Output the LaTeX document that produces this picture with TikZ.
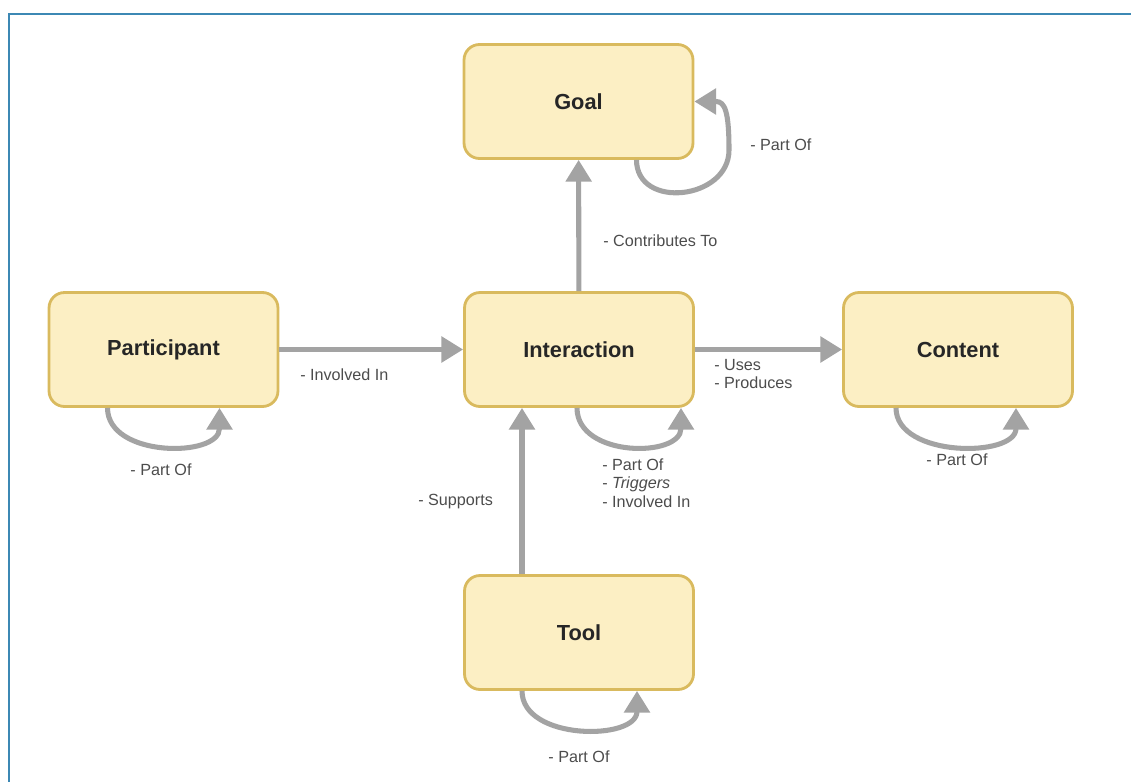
\documentclass[tikz,border=0pt]{standalone}
\usepackage{fontspec}
\setmainfont{Liberation Sans}
\usetikzlibrary{arrows.meta,calc}

\definecolor{boxfill}{HTML}{FCEFC4}
\definecolor{boxline}{HTML}{D9BA5E}
\definecolor{linkgray}{HTML}{A3A3A3}
\definecolor{frameblue}{HTML}{3C88B4}

\tikzset{
  concept/.style={draw=boxline, line width=2pt, fill=boxfill, rounded corners=11pt,
    minimum width=229*0.711pt, minimum height=114*0.711pt,
    font=\fontsize{15.5}{18}\selectfont\bfseries, text=black!85},
  link/.style={draw=linkgray, line width=3.6pt,
    -{Triangle[length=15.5pt,width=18pt]}},
  lbl/.style={font=\fontsize{11.5}{13}\selectfont, text=black!70, inner sep=0pt}
}

\begin{document}
\begin{tikzpicture}[x=0.025cm, y=-0.025cm]
    \useasboundingbox (0,0) rectangle (1131,782);
    % Marco
    \draw [frameblue, line width=1.5pt] (9,782) -- (9,14) -- (1131,14);
    % Conceptos
    \node [concept] (goal) at (578.5,101.5) {Goal};
    \node [concept] (part) at (163.5,349.5) {Participant};
    \node [concept] (inter) at (579,349.5) {Interaction};
    \node [concept] (cont) at (958,349.5) {Content};
    \node [concept] (tool) at (579,632.5) {Tool};
    % Relaciones entre conceptos
    \draw [link] (inter) -- (goal);
    \node [lbl, anchor=west] (contrib) at (603,241) {- Contributes To};
    \draw [link] (part) -- (inter);
    \node [lbl, anchor=west] (involved) at (300,375) {- Involved In};
    \draw [link] (inter) -- (cont);
    \node [lbl, anchor=west, align=left] (uses) at (714,374) {- Uses\\- Produces};
    \draw [link] ($(tool.north)+(-57,0)$) -- ($(inter.south)+(-57,0)$);
    \node [lbl, anchor=west] (supports) at (418,502) {- Supports};
    % Relaciones reflexivas
    \draw [link] ($(goal.south)+(58,0)$) .. controls +(0,50) and +(0,50) .. (729,150)
        .. controls +(0,-38) and +(9,0) .. (716,101.5) -- (goal.east);
    \node [lbl, anchor=west] (goalpart) at (750,145) {- Part Of};
    \draw [link] ($(part.south)+(-56,0)$) .. controls +(0,50) and +(0,50) .. ($(part.south)+(56,0)$);
    \node [lbl] (partpart) at (161,470) {- Part Of};
    \draw [link] ($(inter.south)+(-2,0)$) .. controls +(0,50) and +(0,50) .. ($(inter.south)+(102,0)$);
    \node [lbl, anchor=west, align=left] (interpart) at (602,483) {- Part Of\\- \textit{Triggers}\\- Involved In};
    \draw [link] ($(cont.south)+(-62,0)$) .. controls +(0,50) and +(0,50) .. ($(cont.south)+(58,0)$);
    \node [lbl] (contpart) at (957,460) {- Part Of};
    \draw [link] ($(tool.south)+(-57,0)$) .. controls +(0,50) and +(0,50) .. ($(tool.south)+(58,0)$);
    \node [lbl] (toolpart) at (579,757) {- Part Of};
\end{tikzpicture}
\end{document}
